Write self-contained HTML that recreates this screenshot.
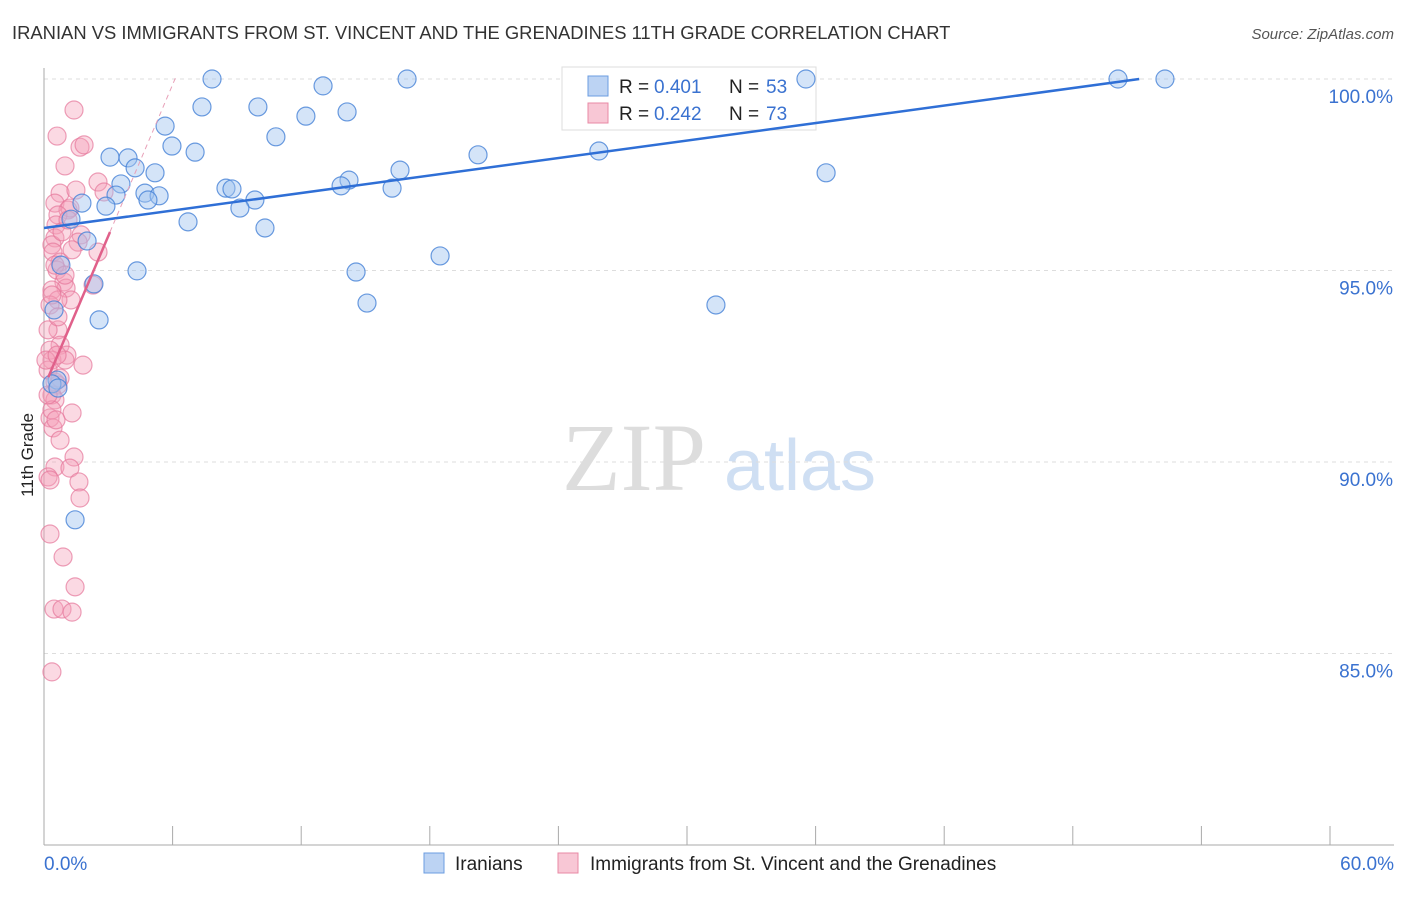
<!DOCTYPE html>
<html><head><meta charset="utf-8"><style>
body{margin:0;background:#fff;font-family:"Liberation Sans",sans-serif}
svg text{font-family:"Liberation Sans",sans-serif}
</style></head><body>
<svg id="chart" width="1406" height="892" xmlns="http://www.w3.org/2000/svg">
<text x="12" y="39" font-size="18.4" fill="#333">IRANIAN VS IMMIGRANTS FROM ST. VINCENT AND THE GRENADINES 11TH GRADE CORRELATION CHART</text>
<text x="1394" y="39" font-size="15" fill="#555" text-anchor="end" font-style="italic">Source: ZipAtlas.com</text>
<text x="33" y="455" font-size="17" fill="#222" text-anchor="middle" transform="rotate(-90 33 455)">11th Grade</text>
<g><text x="634" y="490" font-size="96" fill="#ddd" style="font-family:'Liberation Serif',serif" text-anchor="middle">ZIP</text><text x="800" y="490" font-size="72" fill="#cfdff3" text-anchor="middle">atlas</text></g>
<g id="grid"></g><g id="axes"></g>
<g>
<rect x="562" y="67" width="254" height="63" fill="#fff" stroke="#ddd"/>
<rect x="588" y="76" width="20" height="20" fill="#bcd3f3" stroke="#6b9de0"/>
<text x="619" y="93" font-size="19" fill="#222">R =</text><text x="654" y="93" font-size="19" fill="#3a72d0">0.401</text>
<text x="729" y="93" font-size="19" fill="#222">N =</text><text x="766" y="93" font-size="19" fill="#3a72d0">53</text>
<rect x="588" y="103" width="20" height="20" fill="#f8c7d5" stroke="#e88aa5"/>
<text x="619" y="120" font-size="19" fill="#222">R =</text><text x="654" y="120" font-size="19" fill="#3a72d0">0.242</text>
<text x="729" y="120" font-size="19" fill="#222">N =</text><text x="766" y="120" font-size="19" fill="#3a72d0">73</text>
</g>
<g id="marks"></g>
<g>
<rect x="424" y="853" width="20" height="20" fill="#bcd3f3" stroke="#6b9de0"/>
<text x="455" y="870" font-size="19" fill="#222">Iranians</text>
<rect x="558" y="853" width="20" height="20" fill="#f8c7d5" stroke="#e88aa5"/>
<text x="590" y="870" font-size="19" fill="#222">Immigrants from St. Vincent and the Grenadines</text>
</g>
</svg>
<script>
const xTickLabels=["0.0%","60.0%"];
const yTicks=[100,95,90,85];
const yTickLabels=["100.0%","95.0%","90.0%","85.0%"];
const bluePx=[[212,79],[407,79],[323,86],[806,79],[1118,79],[1165,79],[202,107],[258,107],[347,112],[306,116],[165,126],[276,137],[172,146],[195,152],[478,155],[599,151],[110,157],[128,158],[135,168],[155,173],[400,170],[826,173],[121,184],[349,180],[341,186],[392,188],[226,188],[232,189],[145,193],[159,196],[255,200],[148,200],[116,195],[82,203],[106,206],[240,208],[71,219],[188,222],[265,228],[87,241],[440,256],[61,265],[137,271],[356,272],[94,284],[367,303],[716,305],[54,310],[99,320],[57,380],[75,520],[52,384],[58,388]];
const pinkPx=[[74,110],[57,136],[80,147],[65,166],[98,182],[104,192],[60,193],[76,190],[55,203],[68,210],[70,208],[58,215],[56,225],[81,235],[55,238],[52,245],[78,242],[98,252],[53,252],[60,262],[57,270],[64,282],[93,285],[66,288],[52,290],[71,300],[58,300],[50,305],[58,330],[60,345],[50,350],[67,355],[52,360],[83,365],[65,360],[48,370],[55,382],[58,385],[60,378],[52,395],[55,400],[72,413],[50,418],[53,428],[52,410],[74,457],[55,467],[70,468],[48,477],[79,482],[80,498],[50,534],[63,557],[75,587],[54,609],[62,609],[72,612],[52,672],[48,330],[58,317],[52,295],[62,232],[46,360],[56,420],[60,440],[50,480],[55,265],[72,250],[65,275],[57,355],[84,145],[48,395],[68,220]];
const blueX=bluePx.map(p=>+((p[0]-44)/1286*60).toFixed(2));
const blueY=bluePx.map(p=>+(100-(p[1]-79)/38.3).toFixed(2));
const pinkX=pinkPx.map(p=>+((p[0]-44)/1286*60).toFixed(2));
const pinkY=pinkPx.map(p=>+(100-(p[1]-79)/38.3).toFixed(2));
const blueTrend=[96.11,0.0761,0,51.1];
const pinkTrend=[91.95,1.317,0,3.08,6.16];
const X=v=>44+v/60*1286, Y=v=>79+(100-v)*38.3;
const NS="http://www.w3.org/2000/svg";
function mk(t,a,p){const e=document.createElementNS(NS,t);for(const k in a)e.setAttribute(k,a[k]);p.appendChild(e);return e;}
const grid=document.getElementById('grid'),axes=document.getElementById('axes'),marks=document.getElementById('marks');
yTicks.forEach((t,i)=>{
 const l=mk('line',{x1:44,x2:1394,y1:Y(t),y2:Y(t),stroke:'#ddd','stroke-dasharray':'4,4'},grid);
 
 
 const tx=mk('text',{x:1393,y:Y(t)+24,'font-size':19,fill:'#3a72d0','text-anchor':'end'},axes);tx.textContent=yTickLabels[i];
 
 
});
const ya=mk('line',{x1:44,x2:44,y1:68,y2:845,stroke:'#aaa'},axes);


const xa=mk('line',{x1:44,x2:1394,y1:845,y2:845,stroke:'#aaa'},axes);


for(let i=0;i<=10;i++){const t=mk('line',{x1:X(i*6),x2:X(i*6),y1:826,y2:845,stroke:'#aaa'},axes);
 
 }
[[0,'start',44],[60,'end',1394]].forEach((d,i)=>{const t=mk('text',{x:d[2],y:870,'font-size':19,fill:'#3a72d0','text-anchor':d[1]},axes);t.textContent=xTickLabels[i];
 
 });
pinkX.forEach((x,i)=>{const c=mk('circle',{cx:X(x),cy:Y(pinkY[i]),r:9,fill:'rgba(244,160,186,0.4)',stroke:'rgba(230,120,155,0.7)','stroke-width':1.2},marks);
 
 });
blueX.forEach((x,i)=>{const c=mk('circle',{cx:X(x),cy:Y(blueY[i]),r:9,fill:'rgba(160,196,240,0.45)',stroke:'rgba(70,130,215,0.8)','stroke-width':1.2},marks);
 
 });
const bt=mk('line',{x1:X(blueTrend[2]),y1:Y(blueTrend[0]+blueTrend[1]*blueTrend[2]),x2:X(blueTrend[3]),y2:Y(blueTrend[0]+blueTrend[1]*blueTrend[3]),stroke:'#2f6fd6','stroke-width':2.5},marks);


const pd=mk('line',{x1:X(pinkTrend[3]),y1:Y(pinkTrend[0]+pinkTrend[1]*pinkTrend[3]),x2:X(pinkTrend[4]),y2:Y(pinkTrend[0]+pinkTrend[1]*pinkTrend[4]),stroke:'#e8a0b8','stroke-width':1,'stroke-dasharray':'5,4'},marks);


const pt=mk('line',{x1:X(0.2),y1:Y(pinkTrend[0]+pinkTrend[1]*0.2),x2:X(pinkTrend[3]),y2:Y(pinkTrend[0]+pinkTrend[1]*pinkTrend[3]),stroke:'#e0608a','stroke-width':2.5},marks);


</script>
</body></html>
